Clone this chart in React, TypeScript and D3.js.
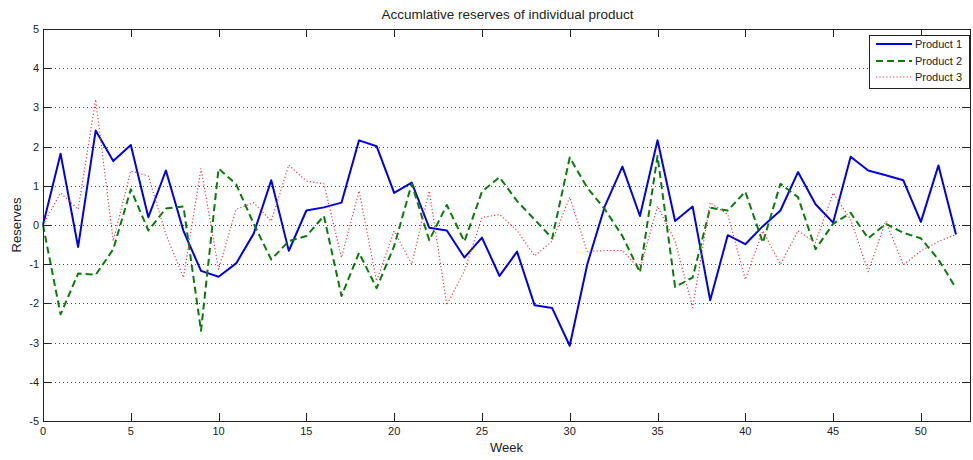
import React from "react";
import * as d3 from "d3";

const weeks: number[] = d3.range(0, 53);
const product1: number[] = [0, 1.82, -0.56, 2.41, 1.63, 2.04, 0.2, 1.39, -0.15, -1.17, -1.32, -0.98, -0.22, 1.14, -0.66, 0.37, 0.45, 0.57, 2.16, 2.01, 0.82, 1.08, -0.07, -0.14, -0.83, -0.32, -1.3, -0.68, -2.05, -2.12, -3.08, -1.0, 0.48, 1.49, 0.23, 2.16, 0.1, 0.47, -1.92, -0.26, -0.49, -0.03, 0.37, 1.35, 0.53, 0.06, 1.74, 1.39, 1.27, 1.14, 0.08, 1.52, -0.24];
const product2: number[] = [0, -2.28, -1.24, -1.27, -0.62, 0.91, -0.14, 0.42, 0.47, -2.7, 1.44, 1.04, 0.03, -0.88, -0.41, -0.28, 0.23, -1.81, -0.71, -1.61, -0.54, 1.05, -0.39, 0.51, -0.42, 0.85, 1.22, 0.61, 0.14, -0.34, 1.72, 0.95, 0.4, -0.28, -1.21, 1.76, -1.58, -1.34, 0.44, 0.37, 0.85, -0.45, 1.05, 0.71, -0.62, 0.03, 0.31, -0.34, 0.03, -0.2, -0.34, -0.88, -1.61];
const product3: number[] = [0, 0.82, 0.4, 3.2, -0.41, 1.38, 1.25, -0.24, -1.34, 1.44, -1.13, 0.4, 0.57, 0.1, 1.53, 1.12, 1.05, -0.83, 0.87, -1.43, -0.15, -1.0, 0.87, -2.04, -1.17, 0.19, 0.27, -0.14, -0.79, -0.41, 0.71, -0.68, -0.65, -0.65, -1.13, 0.48, -0.41, -2.11, 0.57, 0.27, -1.39, -0.15, -1.0, -0.15, -0.45, 0.82, 0.14, -1.19, 0.1, -1.02, -0.66, -0.42, -0.24];
const xTicks: number[] = [0, 5, 10, 15, 20, 25, 30, 35, 40, 45, 50];
const yTicks: number[] = [-5, -4, -3, -2, -1, 0, 1, 2, 3, 4, 5];
const seriesNames: string[] = ["Product 1", "Product 2", "Product 3"];

const seriesStyles = [
  { color: "#0000e6", width: 2, dash: "" },
  { color: "#0a7a0a", width: 2, dash: "7,4" },
  { color: "#e03c48", width: 1.2, dash: "1.2,2.2" },
];

const W = 973;
const H = 460;
const left = 43;
const right = 970;
const top = 29;
const bottom = 421;

export default function App() {
  const x = d3.scaleLinear().domain([0, 52]).range([43, 956]);
  const y = d3.scaleLinear().domain([-5, 5]).range([bottom, top]);
  const allSeries = [product1, product2, product3];
  const line = d3
    .line<number>()
    .x((_, i) => x(weeks[i]))
    .y((d) => y(d));
  const font = "'Liberation Sans', Arial, Helvetica, sans-serif";
  const tickLen = 8;

  const legX = 869;
  const legY = 35;
  const legW = 100;
  const legH = 53;
  const legRows = [44, 61, 77];

  return (
    <svg
      width={W}
      height={H}
      style={{ position: "absolute", left: 0, top: 0, background: "#fff" }}
      fontFamily={font}
    >
      <rect x={0} y={0} width={W} height={H} fill="#fff" />
      {yTicks
        .filter((t) => t !== -5 && t !== 5)
        .map((t) => (
          <line
            key={"g" + t}
            x1={left}
            x2={right}
            y1={Math.round(y(t)) + 0.5}
            y2={Math.round(y(t)) + 0.5}
            stroke="#444"
            strokeWidth={1}
            strokeDasharray="1,3"
          />
        ))}
      <g>
        {allSeries.map((s, i) => (
          <path
            key={"s" + i}
            d={line(s) || ""}
            fill="none"
            stroke={seriesStyles[i].color}
            strokeWidth={seriesStyles[i].width}
            strokeDasharray={seriesStyles[i].dash}
            strokeLinejoin="round"
          />
        ))}
      </g>
      <rect
        x={left + 0.5}
        y={top + 0.5}
        width={right - left}
        height={bottom - top}
        fill="none"
        stroke="#222"
        strokeWidth={1}
      />
      {xTicks.map((t) => (
        <g key={"x" + t}>
          <line x1={Math.round(x(t)) + 0.5} x2={Math.round(x(t)) + 0.5} y1={bottom} y2={bottom - tickLen} stroke="#222" />
          <line x1={Math.round(x(t)) + 0.5} x2={Math.round(x(t)) + 0.5} y1={top} y2={top + tickLen} stroke="#222" />
          <text x={x(t)} y={bottom + 14} fontSize={11} textAnchor="middle" fill="#222">
            {t}
          </text>
        </g>
      ))}
      {yTicks.map((t) => (
        <g key={"y" + t}>
          <line x1={left} x2={left + tickLen} y1={Math.round(y(t)) + 0.5} y2={Math.round(y(t)) + 0.5} stroke="#222" />
          <line x1={right} x2={right - tickLen} y1={Math.round(y(t)) + 0.5} y2={Math.round(y(t)) + 0.5} stroke="#222" />
          <text x={left - 4} y={y(t) + 4} fontSize={11} textAnchor="end" fill="#222">
            {t}
          </text>
        </g>
      ))}
      <text x={(left + right) / 2 + 1} y={19} fontSize={13.5} textAnchor="middle" fill="#222">
        Accumlative reserves of individual product
      </text>
      <text x={(left + right) / 2} y={452} fontSize={13} textAnchor="middle" fill="#222">
        Week
      </text>
      <text
        transform={`translate(21, ${(top + bottom) / 2}) rotate(-90)`}
        fontSize={13}
        textAnchor="middle"
        fill="#222"
      >
        Reserves
      </text>
      <rect x={legX + 0.5} y={legY + 0.5} width={legW} height={legH} fill="#fff" stroke="#222" />
      {seriesNames.map((n, i) => (
        <g key={"l" + i}>
          <line
            x1={876}
            x2={912}
            y1={legRows[i]}
            y2={legRows[i]}
            stroke={seriesStyles[i].color}
            strokeWidth={seriesStyles[i].width}
            strokeDasharray={seriesStyles[i].dash}
          />
          <text x={915} y={legRows[i] + 4} fontSize={11} fill="#222">
            {n}
          </text>
        </g>
      ))}
    </svg>
  );
}
